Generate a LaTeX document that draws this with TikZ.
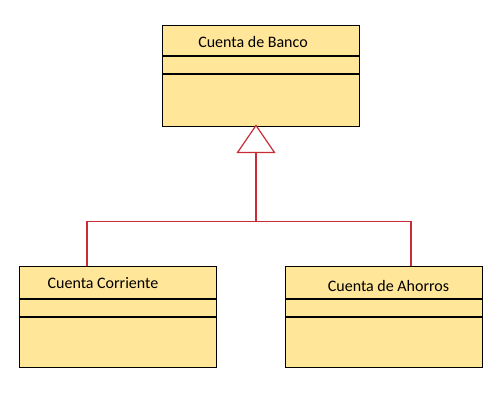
\documentclass[tikz,border=0pt]{standalone}
\usepackage{fontspec}
\setmainfont{Carlito}
\usetikzlibrary{positioning,calc}
\definecolor{classfill}{RGB}{255,230,153}
\definecolor{linkred}{RGB}{200,45,55}

\begin{document}
\begin{tikzpicture}[x=1pt,y=-1pt,
	classbox/.style={draw=black, fill=classfill, line width=1.2pt, minimum width=197pt, minimum height=101pt, inner sep=0pt, anchor=north west},
	divider/.style={line width=1.8pt},
	classname/.style={font=\fontsize{16}{18}\selectfont},
	inherit/.style={draw=linkred, line width=1.2pt}]
	\useasboundingbox (0,0) rectangle (500,400);
	
	% Cuenta de Banco
	\node[classbox] (banco) at (162,24.5) {};
	\draw[divider] (banco.west |- 0,56) -- (banco.east |- 0,56);
	\draw[divider] (banco.west |- 0,74) -- (banco.east |- 0,74);
	\node[classname] (banconame) at (253,42) {Cuenta de Banco};
	
	% Cuenta Corriente
	\node[classbox] (corriente) at (18.5,266) {};
	\draw[divider] (corriente.west |- 0,299) -- (corriente.east |- 0,299);
	\draw[divider] (corriente.west |- 0,317) -- (corriente.east |- 0,317);
	\node[classname] (corrientename) at (103,283) {Cuenta Corriente};
	
	% Cuenta de Ahorros
	\node[classbox] (ahorros) at (284.5,266) {};
	\draw[divider] (ahorros.west |- 0,299) -- (ahorros.east |- 0,299);
	\draw[divider] (ahorros.west |- 0,317) -- (ahorros.east |- 0,317);
	\node[classname] (ahorrosname) at (388.5,286) {Cuenta de Ahorros};
	
	% Herencia
	\coordinate (tip) at (256,125.5);
	\coordinate (tipL) at (237.5,152.5);
	\coordinate (tipR) at (274.5,152.5);
	\coordinate (tipB) at (256,152.5);
	\coordinate (joint) at (256,221.5);
	\draw[inherit, fill=white] (tip) -- (tipL) -- (tipR) -- cycle;
	\draw[inherit] (tipB) -- (joint);
	\draw[inherit] (joint) -| (corriente.north -| 87,0);
	\draw[inherit] (joint) -| (ahorros.north -| 411,0);
\end{tikzpicture}
\end{document}
